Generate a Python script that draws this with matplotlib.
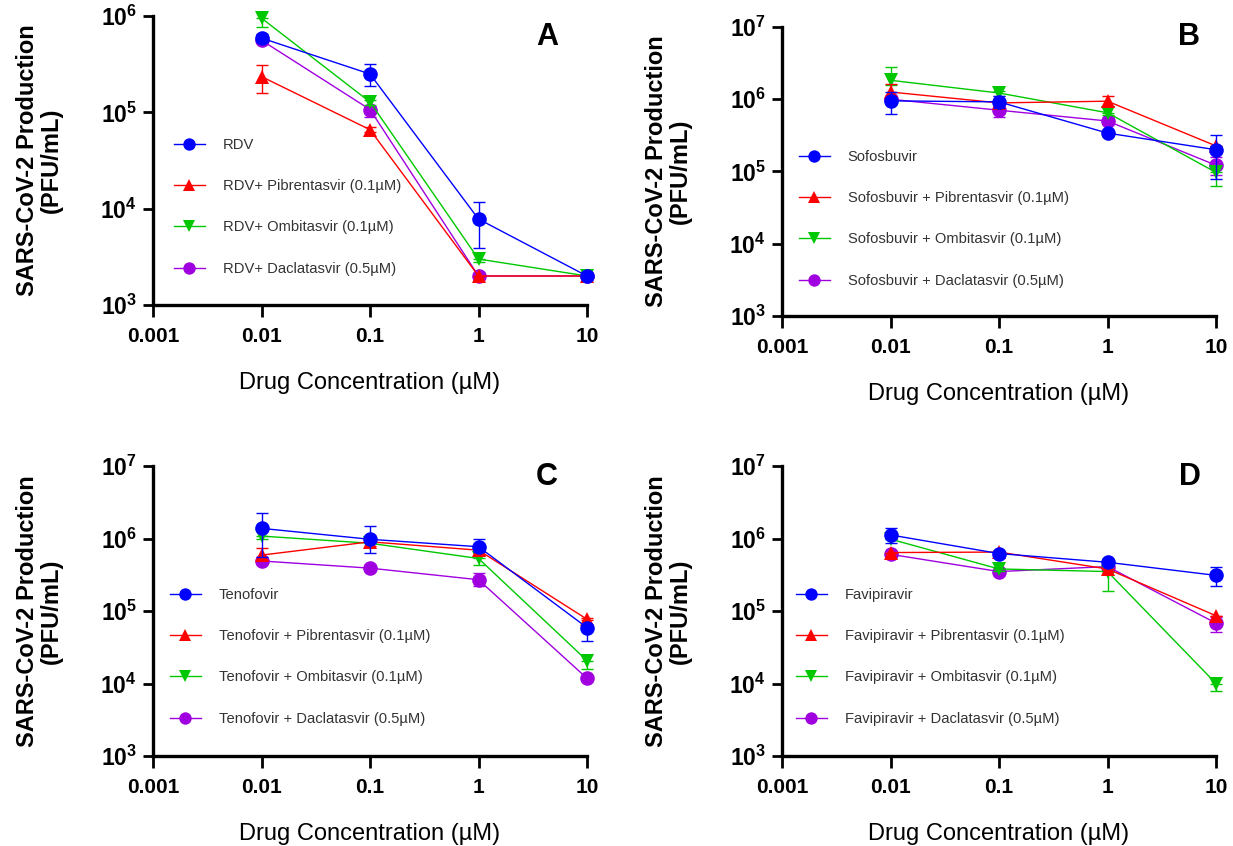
import matplotlib
matplotlib.use("Agg")
import matplotlib.pyplot as plt
import numpy as np

plt.rcParams['font.family'] = ['Liberation Sans', 'DejaVu Sans']
plt.rcParams['mathtext.fontset'] = 'custom'
plt.rcParams['mathtext.bf'] = 'Liberation Sans:bold'
plt.rcParams['mathtext.rm'] = 'Liberation Sans:bold'
plt.rcParams['mathtext.default'] = 'bf'

conc = [0.01, 0.1, 1, 10]
xticks = [0.001, 0.01, 0.1, 1, 10]
xticklabels = ['0.001', '0.01', '0.1', '1', '10']

# Panel A
a_names = ['RDV', 'RDV+ Pibrentasvir (0.1µM)', 'RDV+ Ombitasvir (0.1µM)', 'RDV+ Daclatasvir (0.5µM)']
a_mean = [[5.9e5, 2.5e5, 7.8e3, 2.0e3],
          [2.35e5, 6.6e4, 2.0e3, 2.0e3],
          [9.5e5, 1.28e5, 3.0e3, 2.0e3],
          [5.6e5, 1.07e5, 2.0e3, 2.0e3]]
a_hi = [[6.5e5, 3.16e5, 1.18e4, 2.0e3],
        [3.1e5, 7.0e4, 2.0e3, 2.0e3],
        [9.5e5, 1.35e5, 3.0e3, 2.0e3],
        [5.6e5, 1.1e5, 2.0e3, 2.0e3]]
a_lo = [[5.4e5, 1.87e5, 3.9e3, 2.0e3],
        [1.57e5, 6.2e4, 2.0e3, 2.0e3],
        [7.7e5, 1.2e5, 2.8e3, 2.0e3],
        [5.6e5, 9.0e4, 2.0e3, 2.0e3]]

# Panel B
b_names = ['Sofosbuvir', 'Sofosbuvir + Pibrentasvir (0.1µM)', 'Sofosbuvir + Ombitasvir (0.1µM)', 'Sofosbuvir + Daclatasvir (0.5µM)']
b_mean = [[9.5e5, 9.2e5, 3.4e5, 2.0e5],
          [1.26e6, 8.9e5, 9.4e5, 2.26e5],
          [1.83e6, 1.22e6, 6.5e5, 9.7e4],
          [1.0e6, 7.05e5, 5.0e5, 1.22e5]]
b_hi = [[1.26e6, 1.1e6, 3.4e5, 3.2e5],
        [1.65e6, 8.9e5, 1.1e6, 2.26e5],
        [2.8e6, 1.3e6, 6.5e5, 9.7e4],
        [1.0e6, 7.6e5, 5.0e5, 1.6e5]]
b_lo = [[6.3e5, 7.5e5, 3.4e5, 7.8e4],
        [1.1e6, 8.9e5, 8.0e5, 2.26e5],
        [1.6e6, 1.1e6, 6.0e5, 6.3e4],
        [1.0e6, 5.7e5, 4.7e5, 8.9e4]]

# Panel C
c_names = ['Tenofovir', 'Tenofovir + Pibrentasvir (0.1µM)', 'Tenofovir + Ombitasvir (0.1µM)', 'Tenofovir + Daclatasvir (0.5µM)']
c_mean = [[1.38e6, 9.75e5, 7.7e5, 5.9e4],
          [5.9e5, 9.0e5, 6.9e5, 7.7e4],
          [1.08e6, 8.6e5, 5.3e5, 2.07e4],
          [4.9e5, 3.9e5, 2.7e5, 1.18e4]]
c_hi = [[2.27e6, 1.5e6, 9.75e5, 6.5e4],
        [7.5e5, 1.0e6, 7.0e5, 8.0e4],
        [1.08e6, 8.6e5, 5.3e5, 2.07e4],
        [4.9e5, 3.9e5, 3.3e5, 1.18e4]]
c_lo = [[5.6e5, 6.3e5, 6.5e5, 3.9e4],
        [5.0e5, 8.0e5, 6.0e5, 7.5e4],
        [1.0e6, 8.6e5, 4.3e5, 1.6e4],
        [4.9e5, 3.9e5, 2.2e5, 1.18e4]]

# Panel D
d_names = ['Favipiravir', 'Favipiravir + Pibrentasvir (0.1µM)', 'Favipiravir + Ombitasvir (0.1µM)', 'Favipiravir + Daclatasvir (0.5µM)']
d_mean = [[1.12e6, 6.2e5, 4.7e5, 3.1e5],
          [6.4e5, 6.5e5, 3.8e5, 8.6e4],
          [9.8e5, 3.8e5, 3.5e5, 1.0e4],
          [6.05e5, 3.5e5, 4.1e5, 6.8e4]]
d_hi = [[1.38e6, 6.6e5, 5.0e5, 4.1e5],
        [6.4e5, 6.5e5, 3.8e5, 8.6e4],
        [9.8e5, 3.8e5, 3.5e5, 1.0e4],
        [6.4e5, 3.5e5, 4.1e5, 8.3e4]]
d_lo = [[8.8e5, 5.9e5, 4.5e5, 2.2e5],
        [6.4e5, 6.5e5, 3.8e5, 8.6e4],
        [9.8e5, 3.6e5, 1.9e5, 8.0e3],
        [6.05e5, 3.5e5, 4.1e5, 5.2e4]]

colors = ['#0000FF', '#FF0000', '#00C800', '#A000E0']
markers = ['o', '^', 'v', 'o']
zorders = [6, 5, 4, 3]

W, H = 1233, 846
fig = plt.figure(figsize=(W / 100, H / 100), dpi=100)

panels = [
    dict(rect=(153, 16, 587, 305), ylim=(1e3, 1e6), names=a_names, mean=a_mean, hi=a_hi, lo=a_lo, letter='A', lpos=(547, 37), leg=(190, 146)),
    dict(rect=(782, 27, 1216, 316), ylim=(1e3, 1e7), names=b_names, mean=b_mean, hi=b_hi, lo=b_lo, letter='B', lpos=(1189, 37), leg=(815, 158)),
    dict(rect=(153, 466, 587, 756), ylim=(1e3, 1e7), names=c_names, mean=c_mean, hi=c_hi, lo=c_lo, letter='C', lpos=(547, 477), leg=(186, 596)),
    dict(rect=(782, 466, 1216, 756), ylim=(1e3, 1e7), names=d_names, mean=d_mean, hi=d_hi, lo=d_lo, letter='D', lpos=(1190, 477), leg=(812, 596)),
]

for p in panels:
    l, t, r, b = p['rect']
    ax = fig.add_axes([l / W, 1 - b / H, (r - l) / W, (b - t) / H])
    ax.set_xscale('log')
    ax.set_yscale('log')
    ax.set_xlim(0.001, 10)
    ax.set_ylim(*p['ylim'])
    handles = []
    for i in range(4):
        m = np.array(p['mean'][i])
        hi = np.array(p['hi'][i])
        lo = np.array(p['lo'][i])
        ax.errorbar(conc, m, yerr=[m - lo, hi - m], fmt='none', ecolor=colors[i],
                    elinewidth=1.0, capsize=4.5, capthick=1.0, zorder=zorders[i] - 0.5, clip_on=False)
        ln, = ax.plot(conc, m, color=colors[i], lw=1.0, marker=markers[i], markersize=10.5,
                      markeredgewidth=0, zorder=zorders[i], clip_on=False, label=p['names'][i])
        handles.append(ln)
    for s in ['top', 'right']:
        ax.spines[s].set_visible(False)
    for s in ['left', 'bottom']:
        ax.spines[s].set_linewidth(2.4)
    ax.minorticks_off()
    ax.set_xticks(xticks)
    ax.set_xticklabels(xticklabels, fontsize=15, fontweight='bold')
    lo_e, hi_e = int(np.log10(p['ylim'][0])), int(np.log10(p['ylim'][1]))
    yt = [10.0 ** e for e in range(lo_e, hi_e + 1)]
    ax.set_yticks(yt)
    ax.set_yticklabels([r'$\mathbf{10^{%d}}$' % e for e in range(lo_e, hi_e + 1)], fontsize=16.5)
    ax.tick_params(axis='y', which='major', length=7.5, width=2.0, direction='out', pad=4)
    ax.tick_params(axis='x', which='major', length=8.5, width=2.0, direction='out', pad=7)
    ax.set_xlabel('Drug Concentration (µM)', fontsize=17, labelpad=19)
    ax.set_ylabel('SARS-CoV-2 Production\n(PFU/mL)', fontsize=17, fontweight='bold', linespacing=1.05)
    ax.yaxis.set_label_coords(-0.207, 0.5)
    # panel letter
    lxp, lyp = p['lpos']
    fig.text(lxp / W, 1 - lyp / H, p['letter'], fontsize=22, fontweight='bold', ha='center', va='center')
    # legend
    lx, ly = p['leg']
    leg = ax.legend(handles=handles, loc='upper left', frameon=False, fontsize=10.6,
                    handlelength=2.1, handletextpad=1.2, labelspacing=1.85, markerscale=0.85,
                    bbox_to_anchor=((lx - 16 - l) / (r - l), (b - ly + 8) / (b - t)),
                    borderaxespad=0, borderpad=0)
    for txt in leg.get_texts():
        txt.set_color('#333333')

fig.savefig('out.png', dpi=100)
